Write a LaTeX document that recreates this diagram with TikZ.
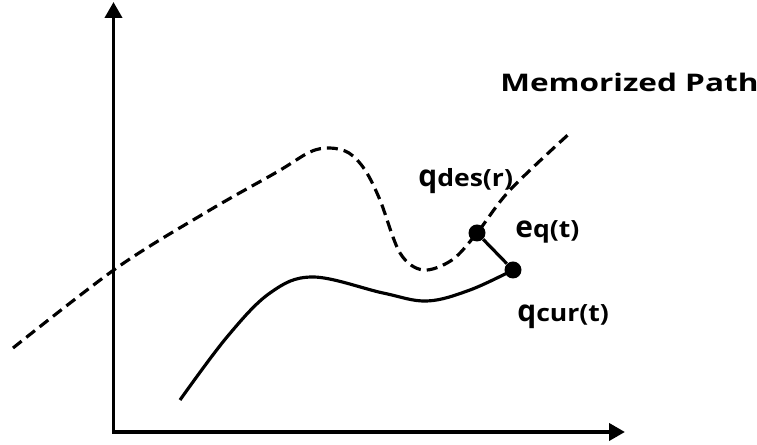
\documentclass[tikz,border=0pt]{standalone}
\usepackage{fontspec}
\setmainfont{Open Sans}
\usepackage{graphicx}
\usetikzlibrary{arrows.meta}
% lettre principale suivie de son indice (en gras, elargi)
\newcommand{\etiq}[2]{{\bfseries\fontsize{17}{17}\selectfont #1}\scalebox{1.12}[1]{\bfseries\fontsize{13.5}{13.5}\selectfont #2}}
\begin{document}
\begin{tikzpicture}[scale=1,
  axe/.style={line width=2.2pt,{Triangle[width=0.34cm,length=0.32cm]}-{Triangle[width=0.34cm,length=0.32cm]}},
  courbe/.style={line width=1.8pt},
  memoire/.style={courbe,dash pattern=on 0.22cm off 0.12cm},
  point/.style={circle,fill=black,inner sep=0pt,minimum size=0.34cm},
  etiquette/.style={anchor=base west,inner sep=0pt}]
\useasboundingbox (0,0) rectangle (15.14,8.9); % cadre de l'image
\coordinate (O) at (2.27,0.26); % l'origine
\coordinate (X) at (12.5,0.26);
\coordinate (Y) at (2.27,8.86);
\coordinate (qdes) at (9.54,4.24); % point desire
\coordinate (qcur) at (10.26,3.5); % point courant
\draw[axe] (Y)--(O)--(X); % les deux axes
\draw[memoire] plot[smooth,tension=0.55] coordinates {(0.26,1.94) (2.36,3.56) (4.2,4.7) (5.54,5.46) (6.2,5.86) (6.6,5.94) (6.98,5.84) (7.3,5.5) (7.6,4.9) (8.0,3.84) (8.46,3.5) (9.04,3.7) (qdes) (10.2,5.1) (11.4,6.24)}; % chemin memorise
\draw[courbe] plot[smooth,tension=0.6] coordinates {(3.6,0.9) (4.54,2.16) (5.4,3.04) (6.26,3.36) (7.66,3.04) (8.54,2.88) (9.4,3.1) (qcur)}; % trajectoire reelle
\node[point] (pdes) at (qdes) {};
\node[point] (pcur) at (qcur) {};
\draw[courbe] (pdes)--(pcur); % l'erreur
\node[etiquette] (lchemin) at (10.0,7.06) {\scalebox{1.3}[1]{\bfseries\fontsize{13.8}{13.8}\selectfont Memorized Path}};
\node[etiquette] (ldes) at (8.36,5.16) {\etiq{q}{des(r)}};
\node[etiquette] (lerr) at (10.3,4.14) {\etiq{e}{q(t)}};
\node[etiquette] (lcur) at (10.34,2.46) {\etiq{q}{cur(t)}};
\end{tikzpicture}
\end{document}
